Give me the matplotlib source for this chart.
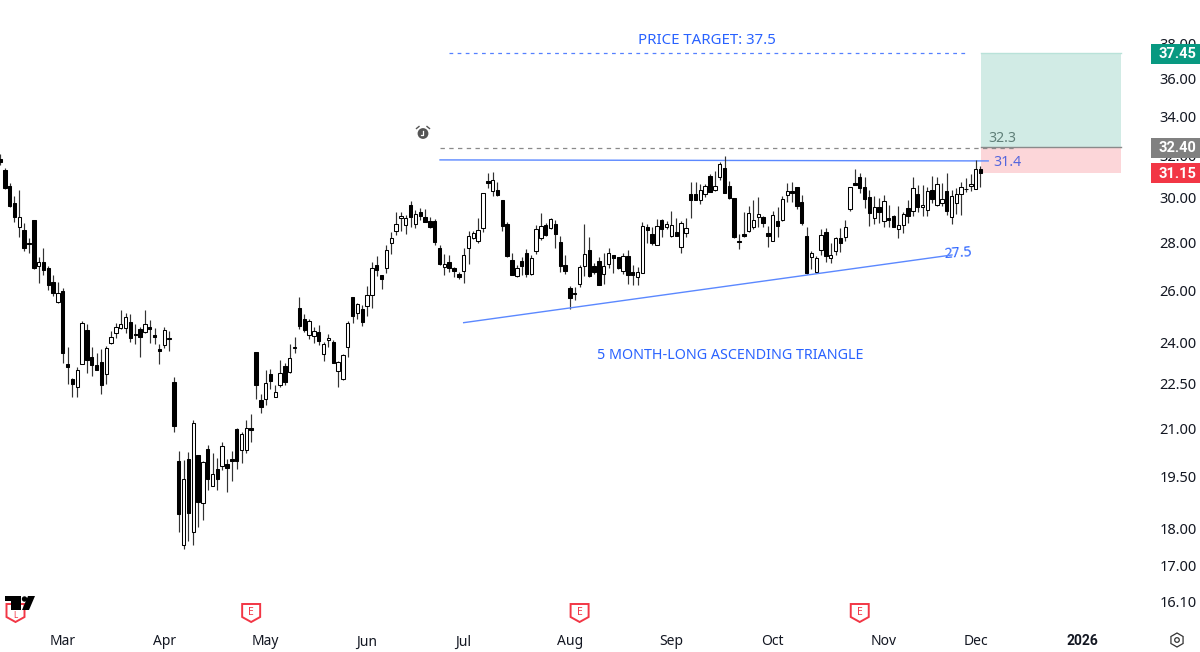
import matplotlib
matplotlib.use('Agg')
import numpy as np
import matplotlib.pyplot as plt
from matplotlib.patches import Polygon, Circle, RegularPolygon, Rectangle
from matplotlib.ticker import FixedLocator, FixedFormatter, NullLocator
from matplotlib.transforms import Affine2D

plt.rcParams['font.family'] = ['Noto Sans', 'DejaVu Sans']

# daily candles
opens = [31.83,31.29,30.53,29.74,28.67,28.53,27.96,28.98,26.99,27.16,26.91,26.34,25.54,25.98,23.22,22.68,22.38,23.22,24.46,23.47,
         23.18,23.29,22.86,23.98,24.35,24.54,24.54,24.76,24.31,24.50,24.39,24.57,24.27,23.76,23.91,24.13,22.58,19.98,17.56,20.04,
         17.92,20.16,18.72,20.35,19.22,19.73,19.82,19.89,20.04,20.98,20.32,20.32,21.01,23.65,21.94,22.00,22.86,22.07,22.48,23.14,
         22.93,23.80,25.31,24.88,24.27,24.24,24.39,23.58,24.09,24.02,22.97,22.68,23.83,25.74,25.11,25.27,25.39,25.82,27.04,26.63,
         26.91,27.96,28.49,29.07,28.75,29.65,28.80,29.34,29.11,28.93,28.93,27.75,26.95,27.16,26.91,26.67,26.79,27.75,28.18,28.05,
         28.62,30.76,30.29,30.34,29.88,28.80,27.24,26.58,27.20,27.53,26.67,27.62,28.18,28.75,28.62,28.80,28.01,27.04,26.10,25.90,
         26.26,26.99,27.66,26.99,27.20,26.67,27.08,27.45,27.37,26.79,27.41,26.75,26.54,26.71,28.67,28.36,27.88,28.98,28.67,28.27,
         28.45,27.79,28.40,30.16,30.16,29.88,30.16,31.00,30.34,30.95,31.39,30.53,29.97,28.05,28.36,28.49,28.67,29.11,29.11,28.40,
         28.05,28.93,28.98,30.11,30.29,30.48,29.79,28.27,27.37,26.75,27.66,28.45,27.32,27.62,28.18,28.23,29.47,30.67,30.95,30.48,
         30.02,29.07,29.56,28.93,29.07,29.16,28.58,28.75,29.52,29.38,30.16,29.56,29.43,30.34,29.65,29.74,30.29,29.11,29.74,30.16,
         30.39,30.53,30.39,31.34]
highs = [32.07,31.39,30.67,30.06,30.34,28.84,28.18,28.98,27.37,27.75,26.99,26.63,26.34,26.10,23.83,22.72,23.11,24.80,24.69,23.83,
         23.61,23.76,23.87,24.42,24.73,25.23,25.11,25.07,24.69,24.57,25.23,24.84,24.54,23.94,24.57,24.42,22.76,20.29,20.01,20.26,
         21.27,20.16,19.98,20.47,20.23,20.07,20.57,20.04,20.29,21.04,20.88,21.27,21.47,23.65,22.17,23.00,23.04,22.45,23.36,23.25,
         23.94,24.20,25.74,25.07,24.88,24.57,24.65,24.02,24.31,24.09,23.32,23.58,24.80,25.74,25.50,25.43,26.18,27.16,27.41,26.63,
         27.88,28.45,29.34,29.34,29.20,29.83,29.43,29.52,29.47,29.11,29.02,27.88,27.49,27.45,26.95,26.75,27.75,28.49,28.49,29.07,
         30.20,31.15,31.19,30.72,29.88,28.89,27.53,27.04,27.37,27.70,27.45,28.75,29.29,28.84,29.07,28.98,28.27,27.45,26.18,26.14,
         27.04,28.80,28.23,27.12,27.37,27.53,27.75,27.45,27.37,27.53,27.66,27.04,26.95,28.89,28.80,28.67,29.02,29.02,28.93,29.38,
         29.07,28.93,29.07,30.72,30.72,30.62,30.62,31.10,31.24,31.68,31.98,30.76,29.97,28.36,29.34,29.61,29.88,30.02,29.16,28.71,
         29.38,29.56,30.06,30.67,30.72,30.48,30.11,28.67,27.62,27.41,28.58,28.62,27.96,28.23,28.62,28.98,30.48,31.34,31.15,30.95,
         30.34,30.06,29.97,30.11,29.65,29.20,29.61,29.34,29.88,30.95,30.58,30.58,30.48,31.00,30.95,30.67,31.15,30.34,30.43,30.72,
         30.91,31.10,31.78,31.49]
lows = [31.53,30.39,29.56,28.89,28.23,27.62,27.53,26.87,26.30,26.63,26.02,25.78,25.50,23.25,22.51,22.07,22.07,23.22,22.90,22.79,
        23.00,22.14,22.51,23.94,24.16,24.50,24.35,24.02,23.94,23.47,24.35,23.98,23.94,23.22,23.80,23.69,20.88,17.92,17.45,17.67,
        17.56,18.05,18.24,19.10,19.22,19.10,19.70,19.04,19.37,19.73,19.92,20.23,20.57,22.00,21.53,21.77,22.34,22.07,22.41,22.45,
        22.90,23.61,24.50,24.39,24.13,23.98,23.91,23.32,23.83,23.25,22.41,22.65,23.47,24.73,24.88,24.61,25.00,25.31,26.58,26.06,
        26.71,27.49,28.31,28.49,28.36,28.67,28.62,28.98,28.89,28.62,27.88,27.04,26.63,26.75,26.54,26.46,26.30,27.08,28.14,27.96,
        28.45,30.43,30.06,30.06,28.49,27.37,26.63,26.54,26.63,26.54,26.63,27.49,28.09,28.27,28.58,27.75,26.75,26.67,25.27,25.62,
        26.14,26.58,26.54,26.67,26.22,26.26,26.91,26.71,26.87,26.67,26.26,26.22,26.22,26.71,27.96,27.88,27.88,28.23,28.58,28.23,
        28.27,27.53,28.23,29.07,29.88,29.70,30.02,30.25,30.29,30.81,30.20,29.93,28.18,27.70,28.23,28.45,28.58,28.67,28.67,27.79,
        28.05,28.23,28.93,29.79,29.79,29.47,28.75,26.67,26.87,26.71,27.45,27.16,27.12,27.45,27.58,28.05,29.38,30.58,30.20,29.52,
        28.71,28.80,28.84,28.67,28.67,28.67,28.18,28.40,28.84,29.16,29.34,29.16,29.16,29.74,29.61,29.61,29.20,28.80,29.25,29.20,
        30.25,30.29,30.39,30.48]
closes = [31.68,30.43,29.61,29.11,29.11,27.75,27.92,26.91,27.16,26.83,26.22,25.90,25.90,23.61,23.11,22.51,23.00,24.73,23.36,23.18,
          23.00,22.45,23.80,24.20,24.57,24.69,24.96,24.16,24.27,24.20,24.69,24.50,24.20,23.69,24.46,24.16,21.08,18.41,19.43,18.44,
          21.20,18.75,19.95,19.43,19.58,19.43,20.44,19.76,19.98,19.98,20.82,21.01,20.95,22.45,21.73,22.55,22.62,22.21,22.90,22.58,
          23.43,23.83,24.61,24.46,24.80,24.42,24.05,23.94,24.16,23.25,23.29,23.51,24.73,25.00,25.47,24.76,25.82,26.91,26.83,26.46,
          27.66,28.18,28.80,29.16,29.07,29.11,29.25,29.16,28.89,28.67,28.01,27.08,27.08,26.91,26.79,26.54,27.45,28.27,28.40,28.53,
          30.20,30.67,30.81,30.11,28.71,27.41,26.63,26.91,26.99,26.67,27.32,28.58,28.71,28.31,29.02,28.36,26.99,26.79,25.70,25.86,
          26.95,27.49,26.58,26.75,26.22,26.99,27.53,27.32,26.91,27.41,26.63,26.63,26.75,28.71,28.53,27.96,28.71,28.58,28.80,28.75,
          28.27,28.84,28.62,29.88,29.88,30.34,30.53,30.25,30.53,31.58,30.20,29.97,28.23,28.01,28.27,29.29,28.98,29.25,28.84,28.27,
          29.20,28.71,29.93,30.29,30.20,29.61,28.84,26.71,27.53,27.32,28.31,27.41,27.45,28.18,27.96,28.67,30.48,30.58,30.43,29.93,
          29.29,29.56,29.34,29.83,28.98,28.67,28.75,29.25,29.16,30.43,29.56,29.65,30.29,29.93,30.62,29.93,29.38,30.06,30.16,30.48,
          30.37,30.62,31.34,31.15]

month_labels = ['Mar', 'Apr', 'May', 'Jun', 'Jul', 'Aug', 'Sep', 'Oct', 'Nov', 'Dec', '2026']
month_idx = [13, 34, 55, 76, 96, 118, 139, 160, 183, 202, 224]
price_ticks = [38, 36, 34, 32, 30, 28, 26, 24, 22.5, 21, 19.5, 18, 17, 16.1]
earnings_idx = [52, 120, 178]

target = 37.45
entry = 32.40
last_close = 31.15
resistance = [31.78, 31.73]
support = [24.73, 27.45]

BLUE = '#2962ff'
LINE_BLUE = '#5b88ff'
W, H = 1200, 652

fig = plt.figure(figsize=(W / 100, H / 100), dpi=100)
ax = fig.add_axes([0, 27 / H, 1145 / W, 625 / H])
ax.set_yscale('log')
ax.set_xlim(0, 1145 / 4.83)
ax.set_ylim(15.52, 40.66)
for s in ax.spines.values():
    s.set_visible(False)

# price axis
ax.yaxis.tick_right()
ax.yaxis.set_major_locator(FixedLocator(price_ticks))
ax.yaxis.set_major_formatter(FixedFormatter(['%.2f' % p for p in price_ticks]))
ax.yaxis.set_minor_locator(NullLocator())
ax.tick_params(axis='y', length=0, pad=10.5, labelsize=10.5, labelcolor='#131722')
ax.set_xticks(month_idx)
ax.set_xticklabels(month_labels)
ax.tick_params(axis='x', length=0, pad=6.8, labelsize=10, labelcolor='#131722')
ax.get_xticklabels()[-1].set_fontfamily('Roboto')
ax.get_xticklabels()[-1].set_fontweight('bold')

# reward / risk boxes
ax.fill_between([203.1, 232.1], entry, target, color='#d1ebe5', lw=0, zorder=1)
ax.fill_between([203.1, 232.1], last_close, entry, color='#fcd6d9', lw=0, zorder=1)
ax.plot([203.1, 232.1], [target, target], color='#b9e2d9', lw=1, zorder=1.5)
ax.plot([203.1, 232.1], [entry, entry], color='#8a8a8a', lw=1, zorder=1.5)

# candles
x = np.arange(len(opens))
o, h, l, c = map(np.array, (opens, highs, lows, closes))
ax.vlines(x, l, h, color='#333333', lw=0.85, zorder=3)
up = c >= o
top = np.maximum(o, c)
bot = np.minimum(o, c)
ax.bar(x, top - bot, bottom=bot, width=0.7, color=np.where(up, 'white', 'black'),
       edgecolor='black', linewidth=0.75, zorder=4)

# drawn levels
ax.plot([93, 199.8], [target, target], color='#5580ff', lw=0.9, ls=(0, (3, 3.5)), zorder=2)
ax.plot([91.1, 210.1], [32.36, 32.36], color='#8a8a8a', lw=0.9, ls=(0, (3.5, 3.5)), zorder=2)
ax.plot([91.1, 204.6], resistance, color=LINE_BLUE, lw=1, zorder=2)
ax.plot([96, 197.1], support, color=LINE_BLUE, lw=1, zorder=5)

ax.text(146.4, 38.2, 'PRICE TARGET: 37.5', color=BLUE, fontsize=10.8, ha='center', va='center')
ax.text(151.1, 23.51, '5 MONTH-LONG ASCENDING TRIANGLE', color=BLUE, fontsize=10.3, ha='center', va='center')
ax.text(198.3, 27.52, '27.5', color=BLUE, fontsize=10.2, ha='center', va='center', rotation=4)
ax.text(205.6, 31.65, '31.4', color='#5566dd', fontsize=10.2, ha='left', va='center')
ax.text(204.6, 32.87, '32.3', color='#5f7f78', fontsize=10.2, ha='left', va='center')


def badge(price, label, color):
    # coloured tag on the price axis
    ypix = ax.transData.transform((0, price))[1] - 0.5
    fig.add_artist(Rectangle((1151, ypix - 10), 49, 20, color=color, lw=0, zorder=8,
                             transform=Affine2D()))
    fig.text(1177 / W, (ypix - 0.5) / H, label, color='white', fontsize=10.5, fontfamily='Roboto',
             fontweight='bold', ha='center', va='center', zorder=9)


badge(target, '37.45', '#089981')
badge(entry, '32.40', '#808080')
badge(last_close, '31.15', '#f23645')

# icons, in picture pixels from the top left
pix = Affine2D().scale(1, -1).translate(0, H)


def shield(cx, letter, ytext=612.5, size=7.5):
    pts = [(cx - 9, 604), (cx + 9, 604), (cx + 9, 617), (cx, 622), (cx - 9, 617)]
    fig.add_artist(Polygon(pts, closed=True, fc='white', ec='#f23645', lw=1.4, transform=pix, zorder=6))
    fig.text(cx / W, 1 - ytext / H, letter, color='#f23645', fontsize=size, fontweight='bold',
             ha='center', va='center', zorder=7)


for i in earnings_idx:
    shield(ax.transData.transform((i, 20))[0], 'E')
shield(15.5, 'L', 615, 6)

# logo
fig.add_artist(Polygon([(5, 596), (21, 596), (21, 610), (11, 610), (11, 601), (5, 601)], closed=True,
                       fc='black', lw=0, transform=pix, zorder=8))
fig.add_artist(Circle((24.5, 599), 2.7, fc='black', lw=0, transform=pix, zorder=8))
fig.add_artist(Polygon([(28, 596), (35, 596), (29, 610), (22, 610)], closed=True, fc='black', lw=0,
                       transform=pix, zorder=8))

# alarm clock
fig.add_artist(Circle((423, 133.5), 5.4, fc='#555555', lw=0, transform=pix, zorder=8))
fig.add_artist(plt.Line2D([423, 423, 420.5], [130.5, 134.5, 134.5], color='white', lw=0.9, transform=pix, zorder=9))
fig.add_artist(plt.Line2D([416.5, 419], [128.5, 126.5], color='#555555', lw=1, transform=pix, zorder=8))
fig.add_artist(plt.Line2D([427, 429.5], [126.5, 128.5], color='#555555', lw=1, transform=pix, zorder=8))

# settings gear
fig.add_artist(RegularPolygon((1177, 640), 6, radius=7, fc='none', ec='#333333', lw=0.9, transform=pix, zorder=8))
fig.add_artist(Circle((1177, 640), 2.3, fc='none', ec='#333333', lw=0.9, transform=pix, zorder=8))

fig.savefig('out.png', dpi=100, facecolor='white')
